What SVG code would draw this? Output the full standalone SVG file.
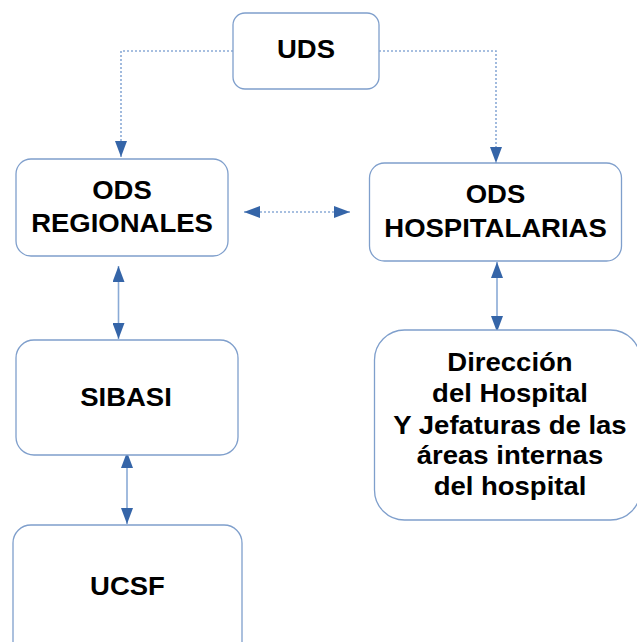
<svg xmlns="http://www.w3.org/2000/svg" width="637" height="642" viewBox="0 0 637 642">
  <style>
    .box { fill: #ffffff; stroke: #7f9fcc; stroke-width: 1.3; }
    .lbl { font-family: "Liberation Sans", Arial, sans-serif; font-weight: bold; font-size: 25px; fill: #000000; text-anchor: middle; transform: scaleX(1.1); transform-box: fill-box; transform-origin: center; }
    .solid { stroke: #8aaad6; stroke-width: 1.6; fill: none; }
    .dot { stroke: #8aaad6; stroke-width: 1.6; fill: none; stroke-dasharray: 2 2; }
  </style>
  <defs>
    <marker id="ah" viewBox="0 0 16 12" refX="16" refY="6" markerWidth="16" markerHeight="12" markerUnits="userSpaceOnUse" orient="auto-start-reverse">
      <path d="M0,0 L16,6 L0,12 z" fill="#3565a8"/>
    </marker>
  </defs>
  <rect width="637" height="642" fill="#ffffff"/>

  <g id="connectors">
    <path class="dot" d="M233,51 H121 V157" marker-end="url(#ah)"/>
    <path class="dot" d="M379,51 H496 V163" marker-end="url(#ah)"/>
    <path class="dot" d="M244,212 H350" marker-start="url(#ah)" marker-end="url(#ah)"/>
    <path class="solid" d="M118.5,266 V339" marker-start="url(#ah)" marker-end="url(#ah)"/>
    <path class="solid" d="M497,262 V332" marker-start="url(#ah)" marker-end="url(#ah)"/>
    <path class="solid" d="M127,452 V524" marker-start="url(#ah)" marker-end="url(#ah)"/>
  </g>

  <g id="uds">
    <rect class="box" x="233" y="13" width="146" height="76" rx="12"/>
    <text class="lbl" x="306" y="58">UDS</text>
  </g>
  <g id="ods-regionales">
    <rect class="box" x="16" y="159" width="212" height="97" rx="15"/>
    <text class="lbl" x="122" y="199">ODS</text>
    <text class="lbl" x="122" y="232">REGIONALES</text>
  </g>
  <g id="ods-hospitalarias">
    <rect class="box" x="369.5" y="163" width="252" height="98" rx="15"/>
    <text class="lbl" x="495.5" y="203">ODS</text>
    <text class="lbl" x="495.5" y="237">HOSPITALARIAS</text>
  </g>
  <g id="sibasi">
    <rect class="box" x="16" y="340" width="222" height="115" rx="18"/>
    <text class="lbl" x="126" y="406">SIBASI</text>
  </g>
  <g id="ucsf">
    <rect class="box" x="13" y="525" width="229" height="140" rx="18"/>
    <text class="lbl" x="127.5" y="595">UCSF</text>
  </g>
  <g id="direccion">
    <rect class="box" x="374.5" y="330" width="266" height="190" rx="30"/>
    <text class="lbl" x="510" y="371">Dirección</text>
    <text class="lbl" x="510" y="402">del Hospital</text>
    <text class="lbl" x="510" y="434">Y Jefaturas de las</text>
    <text class="lbl" x="510" y="464">áreas internas</text>
    <text class="lbl" x="510" y="495">del hospital</text>
  </g>
</svg>
